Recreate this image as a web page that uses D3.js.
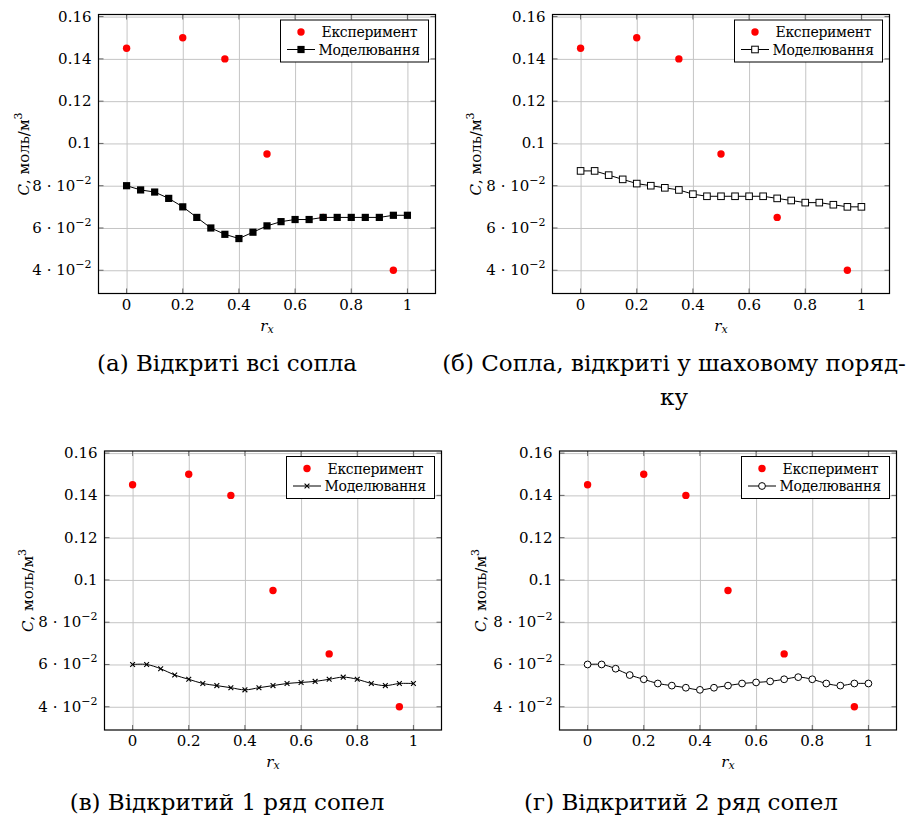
<!DOCTYPE html>
<html>
<head>
<meta charset="utf-8">
<script src="https://cdn.jsdelivr.net/npm/d3@7"></script>
<style>
body { margin: 0; background: #fff; }
</style>
</head>
<body>
<div id="chart"></div>
<script>
// Datos

const xModel = [0, 0.05, 0.1, 0.15, 0.2, 0.25, 0.3, 0.35, 0.4, 0.45, 0.5, 0.55, 0.6, 0.65, 0.7, 0.75, 0.8, 0.85, 0.9, 0.95, 1]
const modelA = [0.080, 0.078, 0.077, 0.074, 0.070, 0.065, 0.060, 0.057, 0.055, 0.058, 0.061, 0.063, 0.064, 0.064, 0.065, 0.065, 0.065, 0.065, 0.065, 0.066, 0.066]
const modelB = [0.087, 0.087, 0.085, 0.083, 0.081, 0.080, 0.079, 0.078, 0.076, 0.075, 0.075, 0.075, 0.075, 0.075, 0.074, 0.073, 0.072, 0.072, 0.071, 0.070, 0.070]
const modelC = [0.060, 0.060, 0.058, 0.055, 0.053, 0.051, 0.050, 0.049, 0.048, 0.049, 0.050, 0.051, 0.0515, 0.052, 0.053, 0.054, 0.053, 0.051, 0.050, 0.051, 0.051]
const modelD = [0.060, 0.060, 0.058, 0.055, 0.053, 0.051, 0.050, 0.049, 0.048, 0.049, 0.050, 0.051, 0.0515, 0.052, 0.053, 0.054, 0.053, 0.051, 0.050, 0.051, 0.051]

const xExp = [0, 0.2, 0.35, 0.5, 0.7, 0.95]
const expY = [0.145, 0.15, 0.14, 0.095, 0.065, 0.04]

const xTicks = [0, 0.2, 0.4, 0.6, 0.8, 1]
const xTickLabels = ["0", "0.2", "0.4", "0.6", "0.8", "1"]
const yTicks = [0.04, 0.06, 0.08, 0.1, 0.12, 0.14, 0.16]
const yTickLabels = [["4", "−2"], ["6", "−2"], ["8", "−2"], ["0.1"], ["0.12"], ["0.14"], ["0.16"]]

const legendNames = ["Експеримент", "Моделювання"]
const captionA = ["(а) Відкриті всі сопла"]
const captionB = ["(б) Сопла, відкриті у шаховому поряд-", "ку"]
const captionC = ["(в) Відкритий 1 ряд сопел"]
const captionD = ["(г) Відкритий 2 ряд сопел"]

// Constantes

const width = 911
const height = 818
const w = 337
const h = 279
const serif = "DejaVu Serif"

const svg = d3.select("#chart").append("svg").attr("width", width).attr("height", height)
    .attr("font-family", serif)

const panels = [
    {left: 98.5, top: 14.5, model: modelA, marker: "squareFill", smooth: false, caption: captionA, cx: 227, cy: 363, labelX: 24},
    {left: 552.5, top: 14.5, model: modelB, marker: "square", smooth: false, caption: captionB, cx: 674, cy: 363, labelX: 476},
    {left: 104.5, top: 451, model: modelC, marker: "cross", smooth: true, caption: captionC, cx: 227, cy: 802, labelX: 28},
    {left: 559.5, top: 451, model: modelD, marker: "circle", smooth: true, caption: captionD, cx: 681, cy: 802, labelX: 481}
]

// Marcadores

function drawMarker(g, type, px, py) {
    if (type == "squareFill") {
        g.append("rect").attr("x", px - 3.6).attr("y", py - 3.6).attr("width", 7.2).attr("height", 7.2).attr("fill", "#000")
    } else if (type == "square") {
        g.append("rect").attr("x", px - 3.3).attr("y", py - 3.3).attr("width", 6.6).attr("height", 6.6)
            .attr("fill", "#fff").attr("stroke", "#000").attr("stroke-width", 1)
    } else if (type == "circle") {
        g.append("circle").attr("cx", px).attr("cy", py).attr("r", 3.4)
            .attr("fill", "#fff").attr("stroke", "#000").attr("stroke-width", 1)
    } else if (type == "cross") {
        g.append("path").attr("d", `M${px-2.4},${py-2.4}L${px+2.4},${py+2.4}M${px-2.4},${py+2.4}L${px+2.4},${py-2.4}`)
            .attr("stroke", "#000").attr("stroke-width", 1.1)
    } else {
        g.append("circle").attr("cx", px).attr("cy", py).attr("r", 3.7).attr("fill", "#ff0000")
    }
}

function txt(sel, size) {
    return sel.attr("font-family", serif).attr("font-size", size).attr("fill", "#000")
}

panels.forEach(p => {
    const x = d3.scaleLinear().domain([-0.1, 1.1]).range([0, w])
    const y = d3.scaleLinear().domain([0.029, 0.161]).range([h, 0])

    const g = svg.append("g").attr("transform", `translate(${p.left},${p.top})`)

    // rejilla
    g.append("g").attr("transform", `translate(0,${h})`)
        .call(d3.axisBottom(x).tickValues(xTicks).tickSize(-h).tickFormat(""))
        .call(a => a.select(".domain").remove())
        .selectAll("line").attr("stroke", "#c4c4c4").attr("stroke-width", 1)
    g.append("g")
        .call(d3.axisLeft(y).tickValues(yTicks).tickSize(-w).tickFormat(""))
        .call(a => a.select(".domain").remove())
        .selectAll("line").attr("stroke", "#c4c4c4").attr("stroke-width", 1)

    // marcas en los cuatro lados
    xTicks.forEach(t => {
        g.append("line").attr("x1", x(t)).attr("x2", x(t)).attr("y1", h).attr("y2", h - 5).attr("stroke", "#666")
        g.append("line").attr("x1", x(t)).attr("x2", x(t)).attr("y1", 0).attr("y2", 5).attr("stroke", "#666")
    })
    yTicks.forEach(t => {
        g.append("line").attr("x1", 0).attr("x2", 5).attr("y1", y(t)).attr("y2", y(t)).attr("stroke", "#666")
        g.append("line").attr("x1", w).attr("x2", w - 5).attr("y1", y(t)).attr("y2", y(t)).attr("stroke", "#666")
    })

    // etiquetas eje x
    txt(g.selectAll(".xlab").data(xTicks).join("text"), 15)
        .attr("x", d => x(d)).attr("y", h + 11)
        .attr("text-anchor", "middle").attr("dominant-baseline", "central")
        .text((d, i) => xTickLabels[i])

    // etiquetas eje y
    txt(g.selectAll(".ylab").data(yTicks).join("text"), 15)
        .attr("x", -7).attr("y", d => y(d))
        .attr("text-anchor", "end").attr("dominant-baseline", "central")
        .each(function(d, i) {
            const lab = yTickLabels[i]
            const t = d3.select(this)
            if (lab.length == 1) { t.text(lab[0]); return }
            t.append("tspan").text(lab[0] + " · 10")
            t.append("tspan").attr("dy", -6).attr("font-size", 11).text(lab[1])
        })

    // títulos de ejes
    const xl = txt(g.append("text"), 15).attr("x", w / 2).attr("y", h + 32)
        .attr("text-anchor", "middle").attr("dominant-baseline", "central")
    xl.append("tspan").attr("font-style", "italic").text("r")
    xl.append("tspan").attr("dy", 3).attr("font-style", "italic").attr("font-size", 11).text("x")

    const yl = txt(svg.append("text"), 15)
        .attr("transform", `translate(${p.labelX},${p.top + h / 2}) rotate(-90)`)
        .attr("text-anchor", "middle").attr("dominant-baseline", "central")
    yl.append("tspan").attr("font-style", "italic").text("C")
    yl.append("tspan").text(", моль/м")
    yl.append("tspan").attr("dy", -6).attr("font-size", 11).text("3")

    // experimento
    xExp.forEach((d, i) => drawMarker(g, "dot", x(d), y(expY[i])))

    // modelo
    const line = d3.line().x(d => x(d[0])).y(d => y(d[1]))
        .curve(p.smooth ? d3.curveCatmullRom.alpha(0.5) : d3.curveLinear)
    const pts = xModel.map((d, i) => [d, p.model[i]])
    g.append("path").datum(pts).attr("d", line).attr("fill", "none").attr("stroke", "#000").attr("stroke-width", 1)
    pts.forEach(d => drawMarker(g, p.marker, x(d[0]), y(d[1])))

    // marco
    g.append("rect").attr("width", w).attr("height", h).attr("fill", "none").attr("stroke", "#000").attr("stroke-width", 1.2)

    // leyenda
    const lg = g.append("g").attr("transform", `translate(${w - 7 - 148},5.5)`)
    lg.append("rect").attr("width", 148).attr("height", 42).attr("fill", "#fff").attr("stroke", "#000").attr("stroke-width", 1)
    drawMarker(lg, "dot", 20.5, 12)
    lg.append("line").attr("x1", 6.5).attr("x2", 34.5).attr("y1", 29.5).attr("y2", 29.5).attr("stroke", "#000")
    drawMarker(lg, p.marker, 20.5, 29.5)
    txt(lg.selectAll(".lt").data(legendNames).join("text"), 14)
        .attr("letter-spacing", -0.3)
        .attr("x", (d, i) => i == 0 ? 41 : 38).attr("y", (d, i) => i == 0 ? 12 : 29.5)
        .attr("dominant-baseline", "central")
        .text(d => d)

    // pie de figura
    txt(svg.selectAll(null).data(p.caption).join("text"), 23)
        .attr("x", p.cx).attr("y", (d, i) => p.cy + i * 34)
        .attr("text-anchor", "middle").attr("dominant-baseline", "central")
        .text(d => d)
})
</script>
</body>
</html>
